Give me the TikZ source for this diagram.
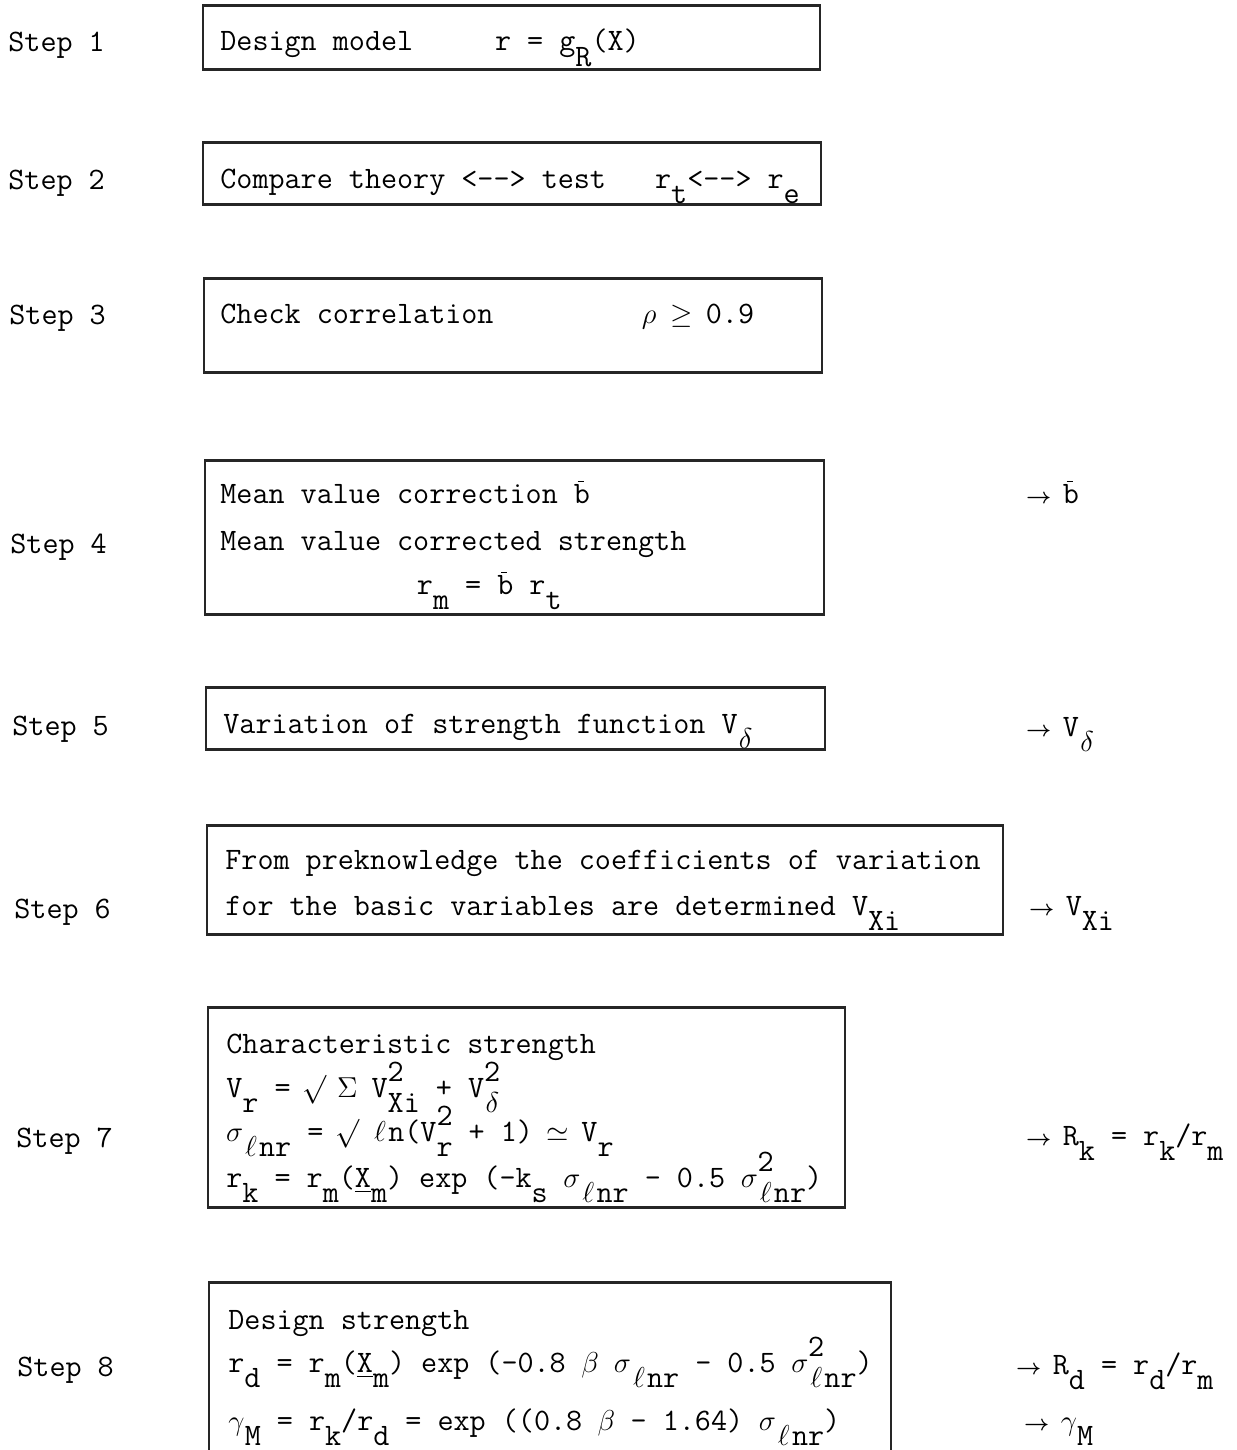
\documentclass[tikz,border=0pt]{standalone}
\usepackage{amsmath,amssymb}
\usepackage{xcolor}
\usepackage{tikz}
\usetikzlibrary{positioning,fit}

\newcommand\lo[1]{\raisebox{-0.5em}{#1}}
\newcommand\hi[1]{\raisebox{0.5em}{#1}}
\newcommand\ch[1]{\makebox[0.525em]{#1}}
\newcommand\ud[2]{\rlap{\hi{#1}}\lo{#2}}
\newcommand\gap[1]{\hspace*{#1\dimexpr0.525em\relax}}
\newcommand\bbar{\rlap{\raisebox{0.66em}{\kern0.12em\rule{0.2em}{0.05em}}}b}
\newcommand\rarr{\ch{$\boldsymbol{\scriptstyle\rightarrow}$}}
\newcommand\dd{-\kern0pt-}
\newcommand\lnr{\lo{\ch{$\ell$}nr}}

\begin{document}
\begin{tikzpicture}[x=0.5pt, y=-0.5pt,
  font=\fontsize{15.6}{18}\selectfont\ttfamily, text=black,
  frame/.style={draw=black!85, line width=0.9pt, inner sep=0pt},
  rule/.style={draw=black!85, line width=1.5pt},
  txt/.style={anchor=base west, inner sep=0pt},
  lbl/.style={anchor=base west, inner sep=0pt},
  res/.style={anchor=base west, inner sep=0pt}]
\clip (0,0) rectangle (1236,1450);
\fill[white] (0,0) rectangle (1236,1450);
% step labels
\foreach \n/\x/\y in {1/8/52, 2/8/189, 3/9/324, 4/10/553, 5/12/735, 6/14/918, 7/16/1147, 8/17/1376}
  \node[lbl] (s\n) at (\x,\y) {Step \n};
% frames
\node[frame, fit={(203,6) (820,69)}] (b1) {};
\node[frame, fit={(203,143) (821,204)}] (b2) {};
\node[frame, fit={(204,279) (822,372)}] (b3) {};
\node[frame, fit={(205,461) (824,614)}] (b4) {};
\node[frame, fit={(206,688) (825,749)}] (b5) {};
\node[frame, fit={(207,826) (1003,934)}] (b6) {};
\node[frame, fit={(208,1008) (845,1207)}] (b7) {};
\node[frame, fit={(209,1283) (891,1480)}] (b8) {};
\foreach \b in {b1,b2,b3,b4,b5,b6,b7,b8}
  \draw[rule] (\b.north west) -- (\b.north east) (\b.south west) -- (\b.south east);
% box texts
\node[txt] (t1) at (220,51) {Design model\gap{5}r = g\lo{R}(X)};
\node[txt] (t2) at (220,188) {Compare theory <\dd> test\gap{3}r\lo{t}<\dd> r\lo{e}};
\node[txt] (t3) at (220,323) {Check correlation\gap{9}\ch{$\rho$} \ch{$\geq$} 0.9};
\node[txt] (t4a) at (220,503) {Mean value correction \bbar};
\node[txt] (t4b) at (220,550) {Mean value corrected strength};
\node[txt] (t4c) at (220,594) {\gap{12}r\lo{m} = \bbar{} r\lo{t}};
\node[txt] (t5) at (223,733) {Variation of strength function V\lo{\ch{$\delta$}}};
\node[txt] (t6a) at (225,869) {From preknowledge the coefficients of variation};
\node[txt] (t6b) at (225,915) {for the basic variables are determined V\lo{Xi}};
\node[txt] (t7a) at (226,1053) {Characteristic strength};
\node[txt] (t7b) at (226,1097) {V\lo{r} = \ch{$\surd$} \ch{$\Sigma$} V\ud{2}{X}\lo{i} + V\ud{2}{\ch{$\delta$}}};
\node[txt] (t7c) at (226,1141) {\ch{$\sigma$}\lnr{} = \ch{$\surd$} \ch{$\ell$}n(V\ud{2}{r} + 1) \ch{$\simeq$} V\lo{r}};
\node[txt] (t7d) at (226,1187) {r\lo{k} = r\lo{m}(\underline{X}\lo{m}) exp (-k\lo{s} \ch{$\sigma$}\lnr{} - 0.5 \ch{$\sigma$}\ud{2}{\ch{$\ell$}}\lo{nr})};
\node[txt] (t8a) at (228,1329) {Design strength};
\node[txt] (t8b) at (228,1372) {r\lo{d} = r\lo{m}(\underline{X}\lo{m}) exp (-0.8 \ch{$\beta$} \ch{$\sigma$}\lnr{} - 0.5 \ch{$\sigma$}\ud{2}{\ch{$\ell$}}\lo{nr})};
\node[txt] (t8c) at (228,1430) {\ch{$\gamma$}\lo{M} = r\lo{k}/r\lo{d} = exp ((0.8 \ch{$\beta$} - 1.64) \ch{$\sigma$}\lnr)};
% results
\node[res] (r4) at (1030,503) {\rarr{} \bbar};
\node[res] (r5) at (1030,736) {\rarr{} V\lo{\ch{$\delta$}}};
\node[res] (r6) at (1033,915) {\rarr{} V\lo{Xi}};
\node[res] (r7) at (1030,1145) {\rarr{} R\lo{k} = r\lo{k}/r\lo{m}};
\node[res] (r8a) at (1020,1374) {\rarr{} R\lo{d} = r\lo{d}/r\lo{m}};
\node[res] (r8b) at (1028,1430) {\rarr{} \ch{$\gamma$}\lo{M}};
\end{tikzpicture}
\end{document}
